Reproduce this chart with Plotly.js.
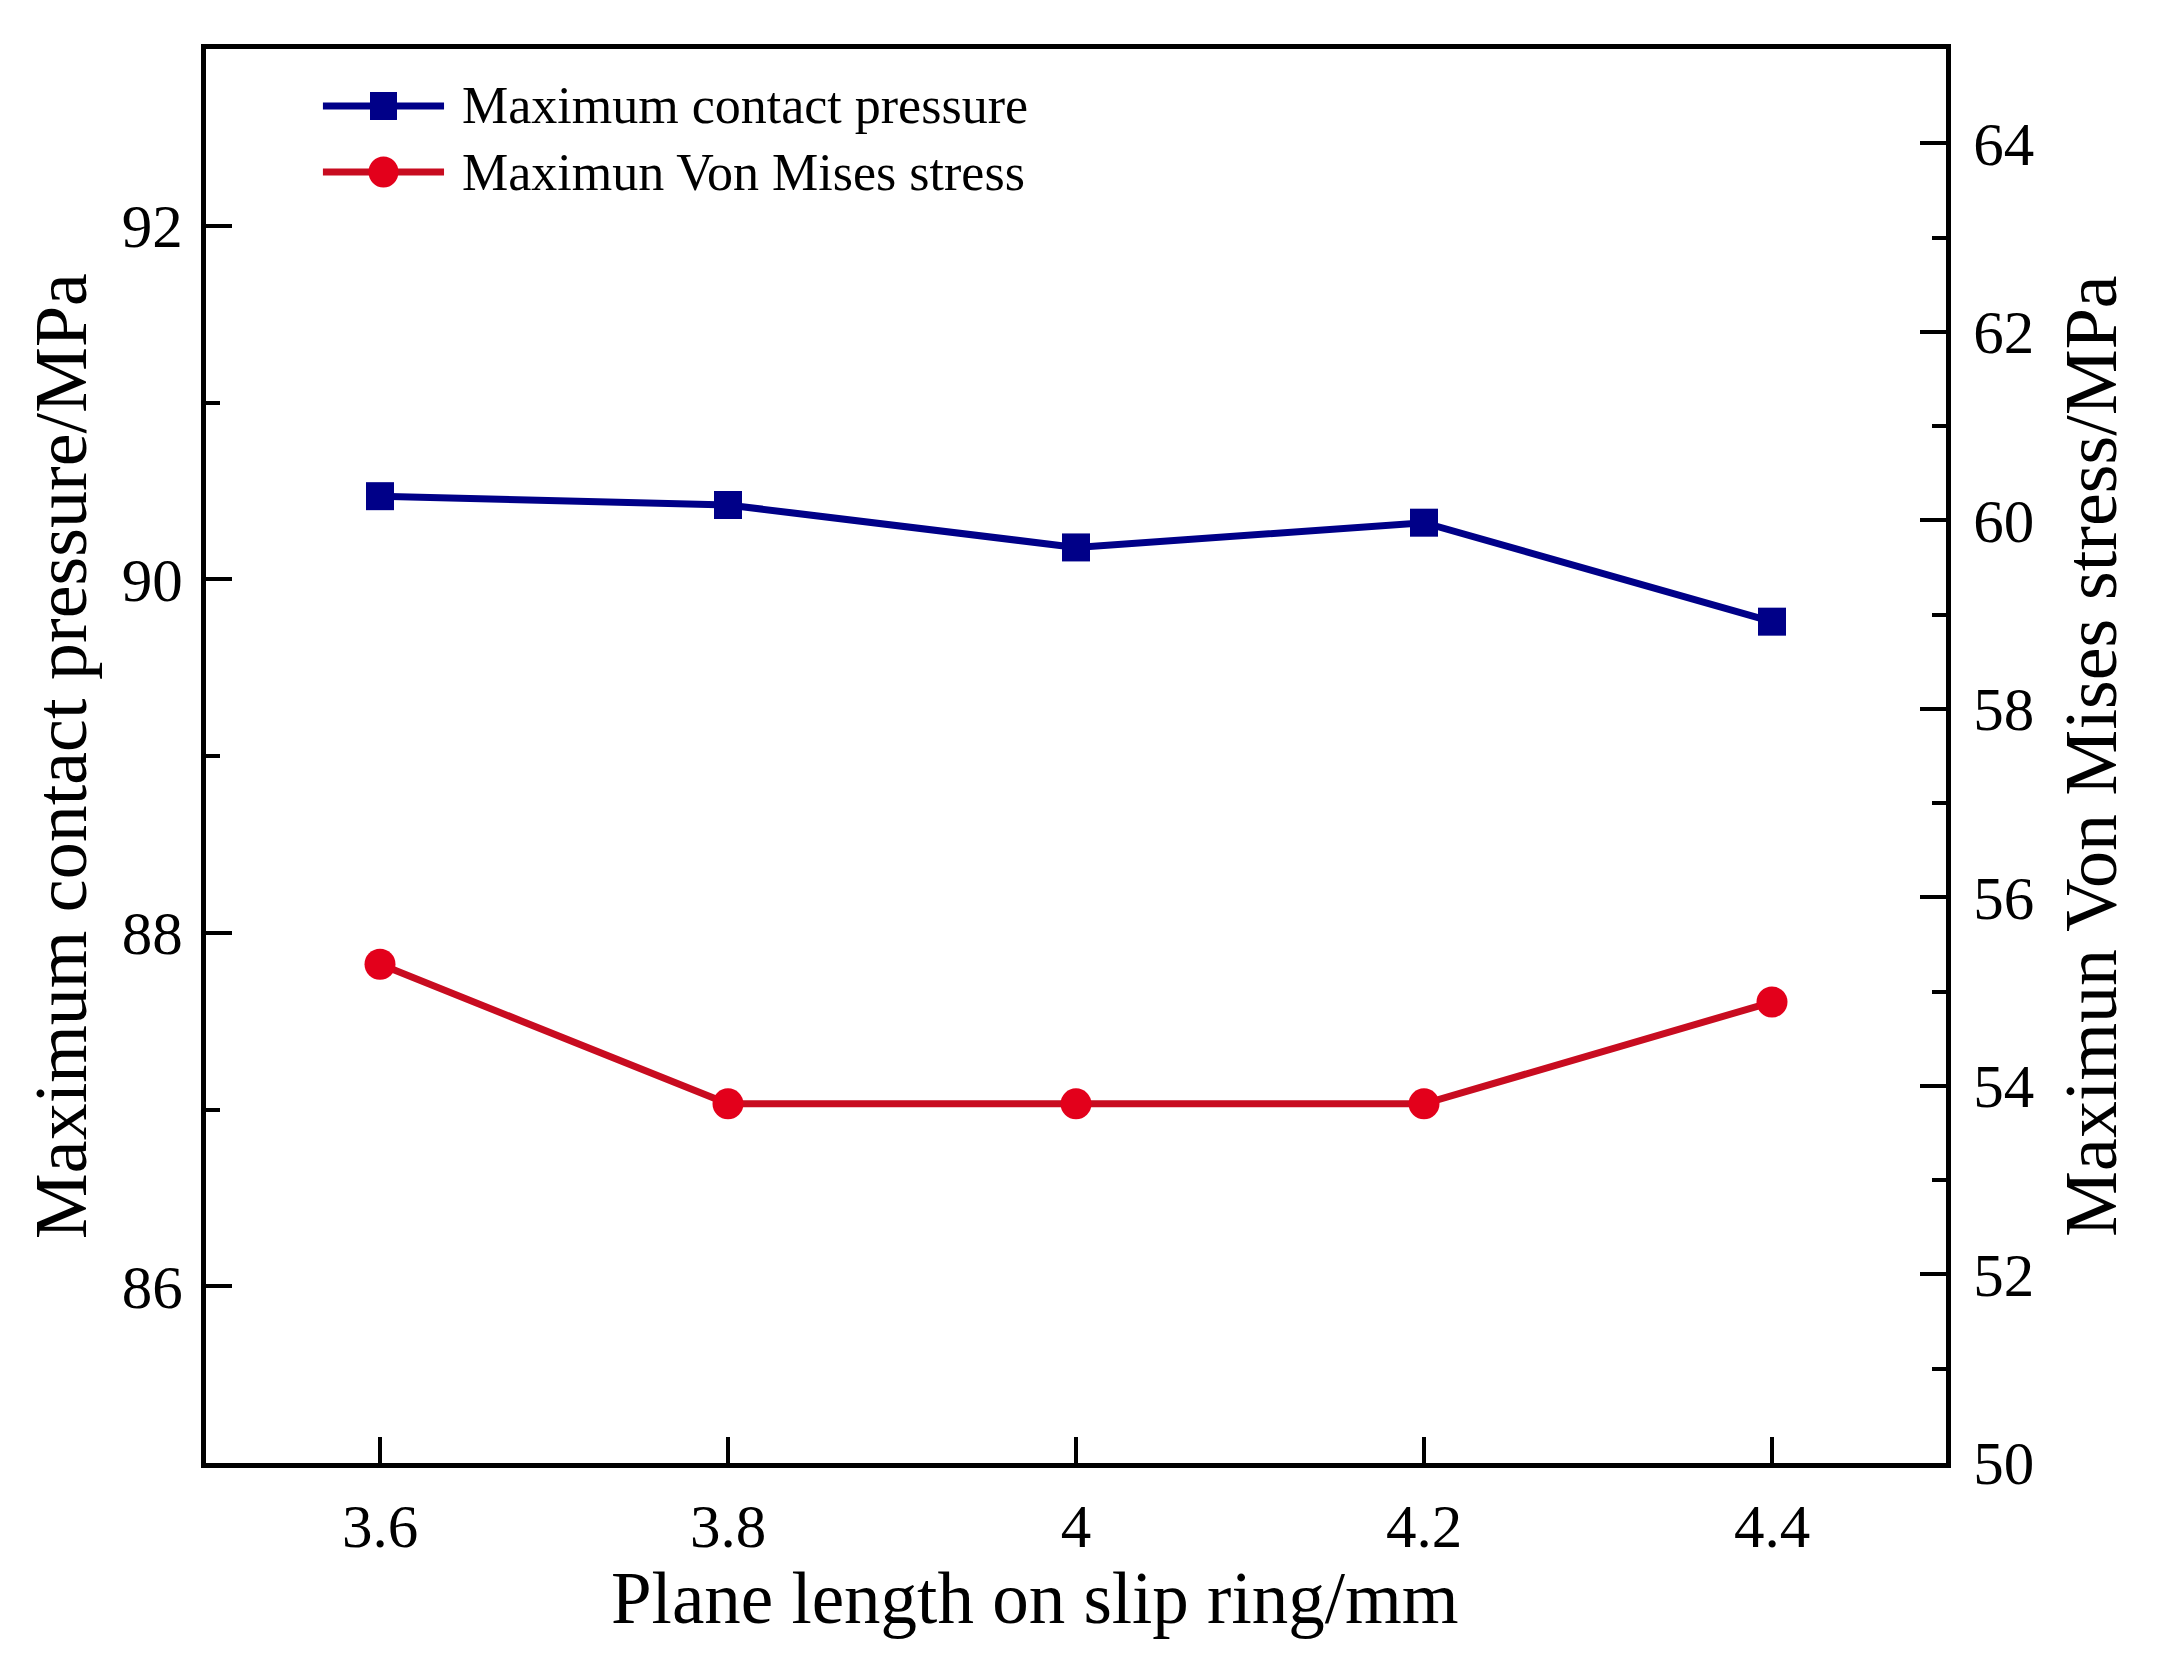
<!DOCTYPE html>
<html>
<head>
<meta charset="utf-8">
<script src="https://cdn.plot.ly/plotly-3.0.1.min.js"></script>
<style>
  html, body { margin: 0; padding: 0; background: #ffffff; }
  #chart { width: 2166px; height: 1672px; }
</style>
</head>
<body>
<div id="chart"></div>
<script>
// Plane length on the slip ring (mm)
const planeLength = [3.6, 3.8, 4.0, 4.2, 4.4];
// Maximum contact pressure (MPa), left axis
const contactPressure = [90.47, 90.42, 90.18, 90.32, 89.76];
// Maximum Von Mises stress (MPa), right axis
const vonMises = [55.29, 53.81, 53.81, 53.81, 54.89];

const seriesNames = ['Maximum contact pressure', 'Maximun Von Mises stress'];
const xTickVals = [3.6, 3.8, 4.0, 4.2, 4.4];
const xTickText = ['3.6', '3.8', '4', '4.2', '4.4'];
const xTitle = 'Plane length on slip ring/mm';

const BLUE = '#000088';
const RED_LINE = '#c80c20';
const RED_MARK = '#e3001b';
const FONT = 'Liberation Serif, Times New Roman, serif';

const traces = [
  {
    x: planeLength, y: contactPressure, name: seriesNames[0],
    type: 'scatter', mode: 'lines+markers', yaxis: 'y',
    line: { color: BLUE, width: 7 },
    marker: { symbol: 'square', size: 28, color: BLUE },
    showlegend: false
  },
  {
    x: planeLength, y: vonMises, name: seriesNames[1],
    type: 'scatter', mode: 'lines+markers', yaxis: 'y2',
    line: { color: RED_LINE, width: 7 },
    marker: { symbol: 'circle', size: 31, color: RED_MARK },
    showlegend: false
  }
];

// Hand-built legend: line sample, marker and label for each series
const legendRows = [
  { y: 0.9597, color: BLUE, markColor: BLUE, shape: 'rect', w: 27, h: 28 },
  { y: 0.9130, color: RED_LINE, markColor: RED_MARK, shape: 'circle', w: 30, h: 31 }
];
const shapes = [];
const annotations = [];
legendRows.forEach((r, i) => {
  shapes.push({
    type: 'line', xref: 'paper', yref: 'paper',
    x0: 0.0672, x1: 0.1368, y0: r.y, y1: r.y,
    line: { color: r.color, width: 7 }
  });
  shapes.push({
    type: r.shape, xref: 'paper', yref: 'paper',
    xsizemode: 'pixel', ysizemode: 'pixel',
    xanchor: 0.1020, yanchor: r.y,
    x0: -r.w / 2, x1: r.w / 2, y0: -r.h / 2, y1: r.h / 2,
    fillcolor: r.markColor, line: { width: 0 }
  });
  annotations.push({
    xref: 'paper', yref: 'paper', x: 0.146, y: r.y,
    xanchor: 'left', yanchor: 'middle', showarrow: false,
    text: seriesNames[i],
    font: { family: FONT, size: 52, color: '#000' }
  });
});

// x-axis title, set slightly left of the plot centre
annotations.push({
  xref: 'paper', yref: 'paper', x: 0.4764, y: -0.0955,
  xanchor: 'center', yanchor: 'middle', showarrow: false,
  text: xTitle,
  font: { family: FONT, size: 73, color: '#000' }
});

const axisCommon = {
  showgrid: false, zeroline: false,
  showline: true, linecolor: '#000', linewidth: 5,
  ticks: 'inside', ticklen: 26, tickwidth: 4, tickcolor: '#000',
  tickfont: { family: FONT, size: 61, color: '#000' }
};

const layout = {
  width: 2166, height: 1672,
  paper_bgcolor: '#ffffff', plot_bgcolor: '#ffffff',
  margin: { l: 206, r: 220, t: 49, b: 209 },
  font: { family: FONT, color: '#000' },
  xaxis: Object.assign({}, axisCommon, {
    range: [3.5, 4.5], tickmode: 'array', tickvals: xTickVals, ticktext: xTickText,
    mirror: true, ticklabelstandoff: 6
  }),
  yaxis: Object.assign({}, axisCommon, {
    range: [85, 93], tickmode: 'linear', tick0: 86, dtick: 2,
    minor: { ticks: 'inside', ticklen: 14, tickwidth: 4, tickcolor: '#000', dtick: 1, tick0: 85, showgrid: false },
    ticklabelstandoff: 6,
    title: { text: 'Maximum contact pressure/MPa', font: { family: FONT, size: 74, color: '#000' }, standoff: 12 }
  }),
  yaxis2: Object.assign({}, axisCommon, {
    overlaying: 'y', side: 'right',
    range: [50, 65], tickmode: 'linear', tick0: 50, dtick: 2,
    minor: { ticks: 'inside', ticklen: 14, tickwidth: 4, tickcolor: '#000', dtick: 1, tick0: 50, showgrid: false },
    ticklabelstandoff: 10,
    title: { text: 'Maximun Von Mises stress/MPa', font: { family: FONT, size: 74, color: '#000' }, standoff: 32 }
  }),
  shapes: shapes,
  annotations: annotations,
  showlegend: false
};

Plotly.newPlot('chart', traces, layout, { displayModeBar: false, staticPlot: true });
</script>
</body>
</html>
